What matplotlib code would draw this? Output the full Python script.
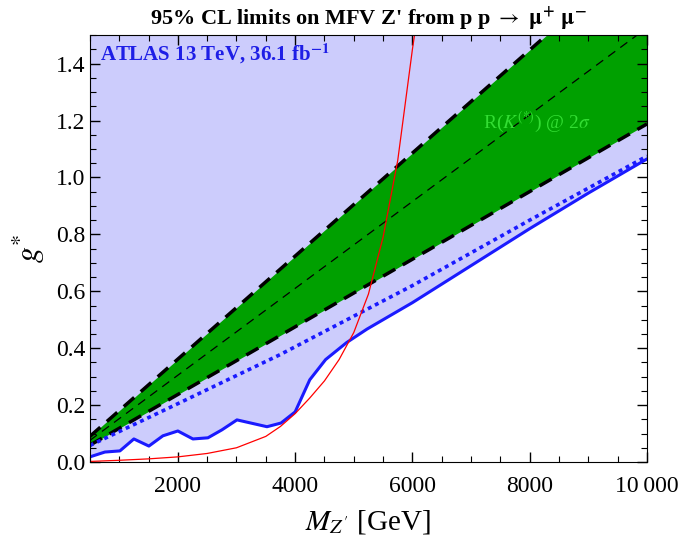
import matplotlib
matplotlib.use("Agg")
import matplotlib.pyplot as plt
from matplotlib.ticker import MultipleLocator, FuncFormatter

plt.rcParams['font.family'] = ['Liberation Serif', 'DejaVu Serif']
plt.rcParams['mathtext.fontset'] = 'stix'

# observed ATLAS limit (solid blue)
obs_m = [500, 756, 1012, 1250, 1506, 1745, 2000, 2257, 2513, 2752, 3008, 3520, 3760, 4000,
         4250, 4520, 4880, 5225, 5500, 6000, 6500, 7000, 7500, 8000, 9000, 10000]
obs_g = [0.018, 0.035, 0.039, 0.081, 0.056, 0.092, 0.109, 0.081, 0.085, 0.113, 0.148, 0.124, 0.137, 0.176,
         0.289, 0.36, 0.42, 0.467, 0.50, 0.56, 0.625, 0.69, 0.755, 0.82, 0.945, 1.065]

# expected limit (dotted blue)
exp_m = [500, 2000, 3740, 6000, 8000, 10000]
exp_g = [0.058, 0.205, 0.377, 0.62, 0.85, 1.075]

# R(K(*)) band at 2 sigma
band_m = [500, 10000]
band_lo = [0.059, 1.188]
band_mid = [0.076, 1.526]
band_hi = [0.09, 1.81]

# red curve
red_m = [500, 1000, 1500, 2000, 2500, 3000, 3500, 3750, 4000, 4250, 4500, 4750, 5000,
         5250, 5500, 5750, 6000, 6050]
red_g = [0.002, 0.006, 0.011, 0.018, 0.03, 0.05, 0.09, 0.125, 0.17, 0.225, 0.285, 0.36, 0.455,
         0.59, 0.79, 1.06, 1.45, 1.52]

fig = plt.figure(figsize=(6.81, 5.5), dpi=100)
ax = fig.add_axes([0.132, 0.16, 0.818, 0.776])

ax.fill_between(obs_m, obs_g, 1.6, color='#ccccfc', lw=0)
ax.fill_between(band_m, band_lo, band_hi, color='#00a000', lw=0)

ax.plot(band_m, band_hi, color='black', lw=2.5, dashes=(4, 2.5))
ax.plot(band_m, band_lo, color='black', lw=2.5, dashes=(4, 2.5))
ax.plot(band_m, band_mid, color='black', lw=0.9, dashes=(7, 5))

ax.plot(exp_m, exp_g, color='#1a1aff', lw=2.6, dashes=(1.1, 1.1))
ax.plot(obs_m, obs_g, color='#1a1aff', lw=2.2)
ax.plot(red_m, red_g, color='red', lw=0.9)

ax.text(680, 1.435, 'ATLAS 13 TeV, 36.1 fb$^{\\mathbf{-1}}$', color='#1e1ee6', fontsize=15,
        fontweight='bold', va='center')
ax.text(7200, 1.195, r'R($K^{(*)}$) @ 2$\sigma$', color='#33dd33', fontsize=14, va='center')

ax.set_xlim(500, 10000)
ax.set_ylim(0, 1.5)
ax.xaxis.set_major_locator(MultipleLocator(2000))
ax.xaxis.set_minor_locator(MultipleLocator(500))
ax.yaxis.set_major_locator(MultipleLocator(0.2))
ax.yaxis.set_minor_locator(MultipleLocator(0.05))
ax.xaxis.set_major_formatter(FuncFormatter(lambda v, p: '10\u2009000' if v >= 10000 else '%d' % v))
ax.yaxis.set_major_formatter(FuncFormatter(lambda v, p: '%.1f' % v))
ax.tick_params(which='both', direction='in', top=True, right=True, labelsize=17)
ax.tick_params(which='major', length=7, width=1)
ax.tick_params(which='minor', length=4, width=0.8)
ax.tick_params(axis='x', which='major', pad=10)

ax.set_xlabel(r"$M_{Z'}$ [GeV]", fontsize=21, labelpad=8)
ax.set_ylabel(r"$g^{*}$", fontsize=23, labelpad=6)
ax.set_title(r"95% CL limits on MFV Z' from p p $\rightarrow$ $\mathbf{\mu^{+}\ \mu^{-}}$",
             fontsize=16, fontweight='bold', pad=7)

fig.savefig('out.png', dpi=100)
